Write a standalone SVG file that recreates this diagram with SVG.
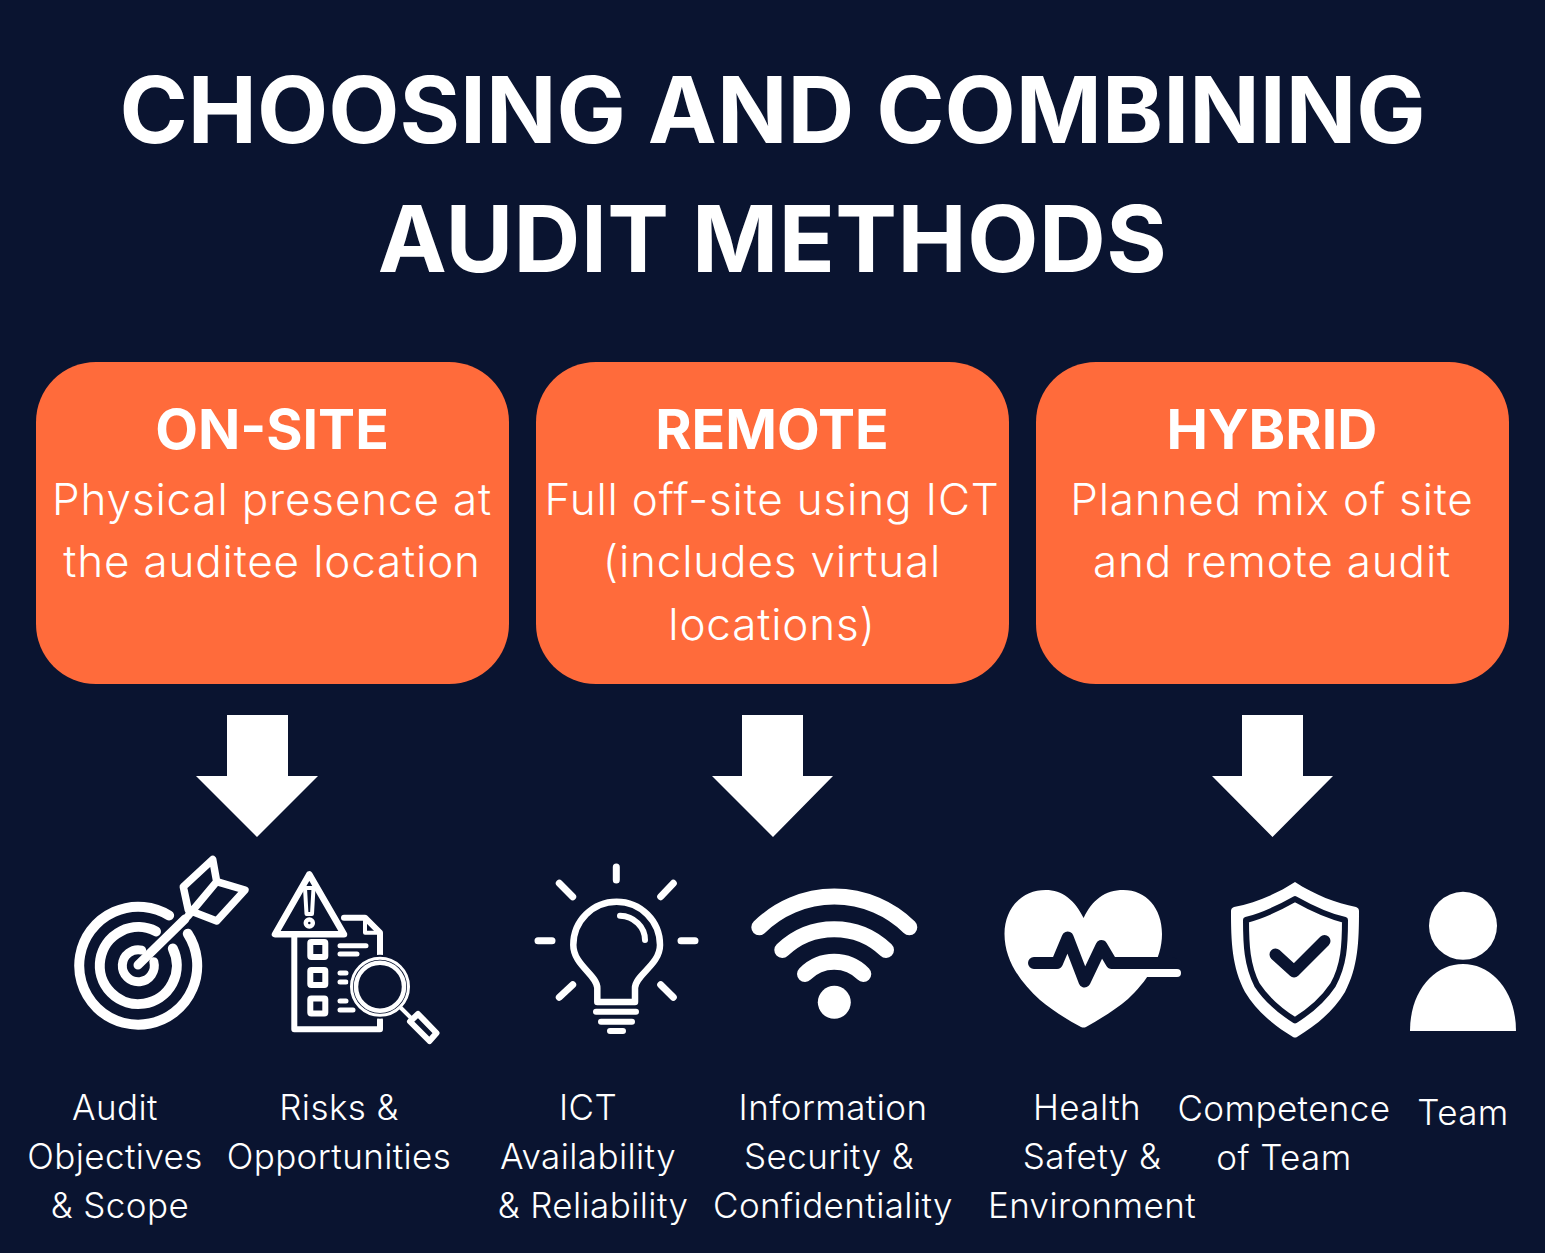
<svg xmlns="http://www.w3.org/2000/svg" width="1545" height="1253" viewBox="0 0 1545 1253">
<style>
text{font-family:Inter,"Liberation Sans",sans-serif;text-anchor:middle;fill:#fff}
.title{font-weight:700;font-size:92.5px}
.head{font-weight:700;font-size:55.5px}
.body{font-size:44px;letter-spacing:.84px;font-weight:350}
.lab{font-size:35px;letter-spacing:.4px;font-weight:350}
.box{fill:#ff6b3b}
.arrow{fill:#fff}
.ln{fill:none;stroke:#fff;stroke-linecap:round;stroke-linejoin:round}
.dk{fill:none;stroke:#0a1430;stroke-linecap:round;stroke-linejoin:round}
.w{fill:#fff}
</style>
<rect width="1545" height="1253" fill="#0a1430"/>
<g id="title">
<text class="title" x="772.5" y="143">CHOOSING AND COMBINING</text>
<text class="title" x="772.5" y="272" letter-spacing=".5">AUDIT METHODS</text>
</g>
<g id="node-onsite">
<rect class="box" x="36" y="362" width="473" height="322" rx="60"/>
<text class="head" x="272" y="449">ON-SITE</text>
<text class="body" x="272" y="515">Physical presence at</text>
<text class="body" x="272" y="577">the auditee location</text>
</g>
<g id="node-remote">
<rect class="box" x="536" y="362" width="473" height="322" rx="60"/>
<text class="head" x="772" y="449">REMOTE</text>
<text class="body" x="772" y="515">Full off-site using ICT</text>
<text class="body" x="772" y="577">(includes virtual</text>
<text class="body" x="772" y="640">locations)</text>
</g>
<g id="node-hybrid">
<rect class="box" x="1036" y="362" width="473" height="322" rx="60"/>
<text class="head" x="1272" y="449">HYBRID</text>
<text class="body" x="1272" y="515">Planned mix of site</text>
<text class="body" x="1272" y="577">and remote audit</text>
</g>
<g id="connectors">
<polygon class="arrow" points="227,715 288,715 288,776 318,776 257,837 196,776 227,776"/>
<polygon class="arrow" points="742,715 803,715 803,776 833,776 773,837 712,776 742,776"/>
<polygon class="arrow" points="1242,715 1303,715 1303,776 1333,776 1272.5,837 1212,776 1242,776"/>
</g>
<g id="node-objectives">
<path class="ln" stroke-width="10" d="M169.1 915.4A59 59 0 1 0 187.8 933.7"/>
<path class="ln" stroke-width="10" d="M156 931.4A38.5 38.5 0 1 0 172.8 948.5"/>
<path class="ln" stroke-width="9" d="M141.7 950.1A16 16 0 1 0 153.8 961.7"/>
<path class="ln" stroke-width="9" d="M138 965L185 919"/>
<path class="ln" stroke-width="7.5" d="M212.7 859.5L216.7 881.7L245 890L216.7 921L188.3 910L183.3 886.7ZM188 916L216.7 881.7"/>
<text class="lab" x="115" y="1120">Audit</text>
<text class="lab" x="115" y="1169">Objectives</text>
<text class="lab" x="120" y="1218">&amp; Scope</text>
</g>
<g id="node-risks">
<path class="ln" stroke-width="6.5" d="M309.3 874.3L275 934.3H344Z"/>
<path class="ln" stroke-width="4" d="M305 888H313.5L312 914H306.5Z"/>
<circle class="ln" stroke-width="4.5" cx="309.3" cy="923" r="3.5"/>
<path class="ln" stroke-width="6" d="M294.3 936V1029.3H380V1020M344 917.7H365L380 932.7V955"/>
<path class="ln" stroke-width="4" d="M365 919V932.7H379"/>
<rect class="ln" stroke-width="6" x="310.3" y="942" width="15" height="15" rx="1"/>
<rect class="ln" stroke-width="6" x="310.3" y="970" width="15" height="15" rx="1"/>
<rect class="ln" stroke-width="6" x="310.3" y="998.5" width="15" height="15" rx="1"/>
<path class="ln" stroke-width="5" d="M340 945.7H366M340 954H357M340 973H346M340 982H346M340 1001H346M340 1010H353"/>
<circle cx="380" cy="986.7" r="32" fill="#0a1430"/>
<circle class="ln" stroke-width="3" cx="380" cy="986.7" r="28.5"/>
<circle class="ln" stroke-width="4.5" cx="380" cy="986.7" r="24"/>
<path class="ln" stroke-width="4" d="M401 1008L412 1019"/>
<path class="ln" stroke-width="6" d="M410 1021.5L418 1014L436.5 1033L429.5 1041Z"/>
<text class="lab" x="339" y="1120">Risks &amp;</text>
<text class="lab" x="339" y="1169">Opportunities</text>
</g>
<g id="node-ict">
<path class="ln" stroke-width="7" d="M616.3 867V880M538 940.7H552M681 940.7H695M559.3 883.3L572.7 896.7M673.3 883.3L660.7 896.7M559.3 997.3L572.7 984.7M673.3 997.3L660.7 984.7"/>
<path class="ln" stroke-width="6.5" d="M597.3 1002V988C597.3 975 573.3 965 573.3 945A43.3 43.3 0 0 1 660 945C660 965 635 975 635 988V1002Z"/>
<path class="ln" stroke-width="6" d="M620 915.7C634 916 645 927 645 940"/>
<path class="ln" stroke-width="6" d="M596 1011.7H636M601 1021.7H632M610 1031H623"/>
<text class="lab" x="588" y="1120">ICT</text>
<text class="lab" x="588" y="1169">Availability</text>
<text class="lab" x="593" y="1218">&amp; Reliability</text>
</g>
<g id="node-infosec">
<path class="ln" stroke-width="16" d="M759.3 927.3A107 107 0 0 1 909.3 927.3M782.3 950A75 75 0 0 1 886 950M805 974A40.8 40.8 0 0 1 863.3 974"/>
<circle class="w" cx="834.3" cy="1002.3" r="16.5"/>
<text class="lab" x="833" y="1120">Information</text>
<text class="lab" x="829" y="1169">Security &amp;</text>
<text class="lab" x="833" y="1218">Confidentiality</text>
</g>
<g id="node-health">
<path class="w" d="M1083.6 918C1075 900 1062 890 1045.7 890C1022 890 1004.5 908 1004.5 934C1004.5 960 1020 982 1040 1000C1052 1010 1066 1019 1081 1027Q1083.6 1028 1086 1027C1100 1019 1115 1010 1128 999C1146 982 1162 960 1162 934C1162 908 1146 890 1123.4 890C1105 890 1092 900 1083.6 918Z"/>
<path class="dk" stroke-width="12" d="M1034 963H1057L1067.7 937.6L1084.6 981.5L1101.5 946L1111.6 963H1172"/>
<path class="ln" stroke-width="8" d="M1147 973H1177"/>
<path class="w" d="M1112 969H1150V977H1112Z"/>
<text class="lab" x="1087" y="1120">Health</text>
<text class="lab" x="1092" y="1169">Safety &amp;</text>
<text class="lab" x="1092" y="1218">Environment</text>
</g>
<g id="node-competence">
<path class="w" d="M1295 882C1315 895 1336 903 1356 907Q1359 908 1359 911C1359 942 1358 967 1345 992C1333 1012 1315 1026 1297 1037Q1295 1038 1293 1037C1275 1026 1257 1012 1245 992C1232 967 1231 942 1231 911Q1231 908 1234 907C1254 903 1275 895 1295 882Z"/>
<path class="dk" stroke-width="6" stroke-linejoin="miter" d="M1295 899C1311 908 1328 916 1345 920C1345 945 1344 965 1333 985C1323 1000 1310 1011 1295 1020.4C1280 1011 1267 1000 1257 985C1247 965 1246 945 1246 920C1262 916 1279 908 1295 899Z"/>
<path class="dk" stroke-width="12" d="M1275.5 954.5L1294 971.4L1324.5 941"/>
<text class="lab" x="1284" y="1121">Competence</text>
<text class="lab" x="1284" y="1170">of Team</text>
</g>
<g id="node-team">
<circle class="w" cx="1463" cy="925.8" r="34"/>
<path class="w" d="M1410 1031C1410 990 1435 964 1463 964C1491 964 1516 990 1516 1031Z"/>
<text class="lab" x="1463" y="1125">Team</text>
</g>
</svg>
